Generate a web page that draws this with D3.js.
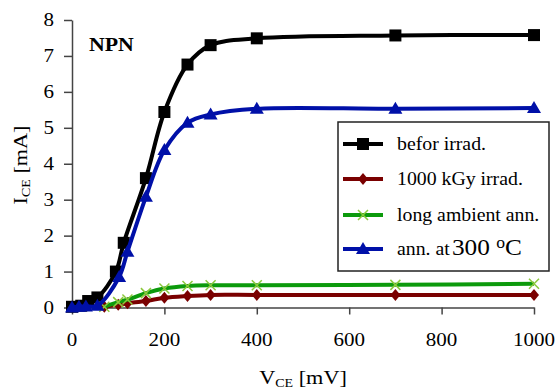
<!DOCTYPE html>
<html>
<head>
<meta charset="utf-8">
<script src="https://cdn.jsdelivr.net/npm/d3@7"></script>
<style>
  body { margin: 0; background: #fff; }
  svg { display: block; font-family: "Liberation Serif", "Times New Roman", serif; }
</style>
</head>
<body>
<svg id="chart" width="558" height="392"></svg>
<script>
// data (V_CE in mV, I_CE in mA)
const beforX = [0, 20, 35, 55, 95, 112, 160, 200, 250, 300, 400, 700, 1000];
const beforY = [0.02, 0.05, 0.18, 0.28, 1.0, 1.8, 3.6, 5.44, 6.76, 7.3, 7.49, 7.57, 7.58];

const irradX = [70, 100, 120, 160, 200, 250, 300, 400, 700, 1000];
const irradY = [0.02, 0.08, 0.12, 0.18, 0.27, 0.32, 0.35, 0.35, 0.35, 0.35];

const ambX = [70, 100, 120, 160, 200, 250, 300, 400, 700, 1000];
const ambY = [0.02, 0.15, 0.22, 0.4, 0.53, 0.6, 0.62, 0.62, 0.63, 0.66];

const annX = [0, 15, 30, 55, 102, 120, 160, 200, 250, 300, 400, 700, 1000];
const annY = [0.0, 0.02, 0.03, 0.05, 0.85, 1.55, 3.08, 4.38, 5.14, 5.37, 5.53, 5.53, 5.55];

const xTicks = [0, 200, 400, 600, 800, 1000];
const yTicks = [0, 1, 2, 3, 4, 5, 6, 7, 8];

const seriesNames = ["befor irrad.", "1000 kGy irrad.", "long ambient ann.", "ann. at"];

const svg = d3.select("#chart");
const x = d3.scaleLinear().domain([0, 1000]).range([72, 534]);
const y = d3.scaleLinear().domain([0, 8]).range([307.5, 20]);
const axisColor = "#444";
const stretch = 1.17;

// axes
svg.append("g")
  .attr("transform", "translate(0,307.5)")
  .call(d3.axisBottom(x).tickValues(xTicks).tickSize(7).tickSizeOuter(0).tickFormat(""))
  .call(g => g.selectAll("line,path").attr("stroke", axisColor).attr("stroke-width", 1.5));

svg.append("g")
  .attr("transform", "translate(72,0)")
  .call(d3.axisLeft(y).tickValues(yTicks).tickSize(8).tickSizeOuter(0).tickFormat(""))
  .call(g => g.selectAll("line,path").attr("stroke", axisColor).attr("stroke-width", 1.5));

function label(px, py, txt, anchor, size, weight, sx) {
  return svg.append("text")
    .attr("transform", `translate(${px},${py}) scale(${sx || stretch},1)`)
    .attr("text-anchor", anchor)
    .attr("font-size", size)
    .attr("font-weight", weight || "normal")
    .attr("fill", "#000")
    .text(txt);
}

xTicks.forEach(t => label(x(t), 346, t, "middle", 18));
yTicks.forEach(t => label(54, y(t) + 6, t, "end", 18));

// axis titles
const xt = svg.append("text")
  .attr("transform", `translate(303,384) scale(${stretch},1)`)
  .attr("text-anchor", "middle").attr("font-size", 19);
xt.append("tspan").text("V");
xt.append("tspan").attr("font-size", 12).attr("dy", 3).text("CE");
xt.append("tspan").attr("dy", -3).text(" [mV]");

const yt = svg.append("text")
  .attr("transform", `translate(27,165) rotate(-90) scale(${stretch},1)`)
  .attr("text-anchor", "middle").attr("font-size", 19);
yt.append("tspan").text("I");
yt.append("tspan").attr("font-size", 12).attr("dy", 3).text("CE");
yt.append("tspan").attr("dy", -3).text(" [mA]");

label(89, 51, "NPN", "start", 19, "bold", 1.15);

// series
const series = [
  { xs: beforX, ys: beforY, color: "#000", marker: "square" },
  { xs: irradX, ys: irradY, color: "#7a0000", marker: "diamond" },
  { xs: ambX, ys: ambY, color: "#0c9a0c", marker: "cross" },
  { xs: annX, ys: annY, color: "#0010a8", marker: "triangle" }
];

const line = d3.line().x(d => x(d[0])).y(d => y(d[1])).curve(d3.curveCatmullRom.alpha(0.5));

function drawMarker(g, kind, cx, cy, color) {
  if (kind === "square") {
    g.append("rect").attr("x", cx - 6).attr("y", cy - 6).attr("width", 12).attr("height", 12).attr("fill", color);
  } else if (kind === "diamond") {
    g.append("path").attr("d", `M${cx},${cy - 6}L${cx + 5},${cy}L${cx},${cy + 6}L${cx - 5},${cy}Z`).attr("fill", color);
  } else if (kind === "triangle") {
    g.append("path").attr("d", `M${cx},${cy - 7}L${cx + 7},${cy + 5}L${cx - 7},${cy + 5}Z`).attr("fill", color);
  } else {
    g.append("path").attr("d", `M${cx - 5},${cy - 5}L${cx + 5},${cy + 5}M${cx + 5},${cy - 5}L${cx - 5},${cy + 5}`)
      .attr("stroke", "#8cc83c").attr("stroke-width", 1.5).attr("fill", "none");
  }
}

series.forEach(s => {
  const pts = s.xs.map((v, i) => [v, s.ys[i]]);
  const g = svg.append("g");
  g.append("path").datum(pts).attr("d", line)
    .attr("fill", "none").attr("stroke", s.color).attr("stroke-width", 4).attr("stroke-linejoin", "round");
  pts.forEach(p => drawMarker(g, s.marker, x(p[0]), y(p[1]), s.color));
});

// legend
const lg = svg.append("g");
lg.append("rect").attr("x", 338).attr("y", 122).attr("width", 211).attr("height", 149)
  .attr("fill", "#fff").attr("stroke", "#222").attr("stroke-width", 1.5);
const rowY = [144, 179, 215, 249];
series.forEach((s, i) => {
  lg.append("line").attr("x1", 343).attr("x2", 383).attr("y1", rowY[i]).attr("y2", rowY[i])
    .attr("stroke", s.color).attr("stroke-width", 4);
  drawMarker(lg, s.marker, 363, rowY[i], s.color);
  const t = lg.append("text")
    .attr("transform", `translate(397,${rowY[i] + 6}) scale(1.1,1)`)
    .attr("font-size", 18).text(seriesNames[i]);
  if (i === 3) {
    t.append("tspan").attr("font-size", 23).attr("dx", 2).text("300 ");
    t.append("tspan").attr("font-size", 16).attr("dy", -7).text("o");
    t.append("tspan").attr("font-size", 23).attr("dy", 7).text("C");
  }
});
</script>
</body>
</html>
